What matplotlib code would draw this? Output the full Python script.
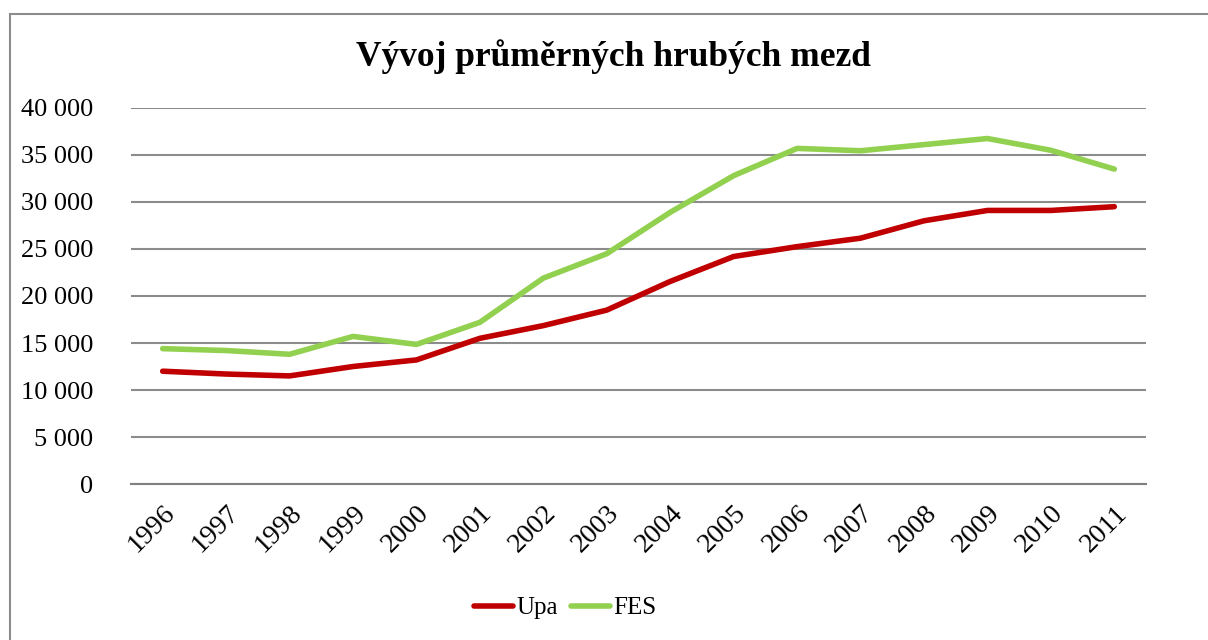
import numpy as np
import matplotlib
matplotlib.use("Agg")
import matplotlib.pyplot as plt
from matplotlib.patches import Rectangle
from matplotlib.ticker import FuncFormatter

roky = ['1996', '1997', '1998', '1999', '2000', '2001', '2002', '2003',
        '2004', '2005', '2006', '2007', '2008', '2009', '2010', '2011']
upa = [12000, 11700, 11500, 12500, 13200, 15500, 16850, 18500,
       21550, 24200, 25250, 26150, 28000, 29100, 29100, 29500]
fes = [14400, 14200, 13800, 15700, 14850, 17200, 21900, 24500,
       28900, 32800, 35700, 35450, 36100, 36750, 35500, 33500]

plt.rcParams['font.family'] = ['Liberation Serif', 'DejaVu Serif']

fig = plt.figure(figsize=(12.08, 6.4), dpi=100)
ax = fig.add_axes([0.1084, 0.2437, 0.8403, 0.5876])

# ramecek grafu
fig.patches.append(Rectangle((10 / 1208, -0.05), 1.2, 1 - 14 / 640 + 0.05,
                             transform=fig.transFigure, fill=False,
                             edgecolor='#8c8c8c', linewidth=1.5))

x = np.arange(len(roky))
ax.plot(x, upa, color='#C00000', lw=4, solid_capstyle='round', label='Upa')
ax.plot(x, fes, color='#92D050', lw=4, solid_capstyle='round', label='FES')

ax.set_xlim(-0.5, len(roky) - 0.5)
ax.set_ylim(0, 40000)
ax.set_yticks(np.arange(0, 40001, 5000))
ax.yaxis.set_major_formatter(FuncFormatter(lambda v, p: f'{int(v):,}'.replace(',', ' ')))
ax.set_xticks(x)
ax.set_xticklabels(roky, rotation=45, ha='right', va='top', rotation_mode='anchor')

ax.grid(axis='y', color='#8c8c8c', lw=1.5)
ax.set_axisbelow(True)
for s in ['top', 'right', 'left']:
    ax.spines[s].set_visible(False)
ax.spines['bottom'].set_color('#808080')
ax.spines['bottom'].set_linewidth(1.5)
ax.tick_params(axis='both', length=0)
ax.tick_params(axis='y', pad=27, labelsize=19)
ax.tick_params(axis='x', pad=12, labelsize=20)

fig.text(0.508, 0.911, 'Vývoj průměrných hrubých mezd', ha='center', va='center',
         fontsize=25.5, fontweight='bold')

fig.legend(loc='center', bbox_to_anchor=(0.468, 0.05), ncol=2, frameon=False,
           fontsize=18, handlelength=1.55, handletextpad=0.15, columnspacing=0.5)

fig.savefig('out.png', dpi=100)
